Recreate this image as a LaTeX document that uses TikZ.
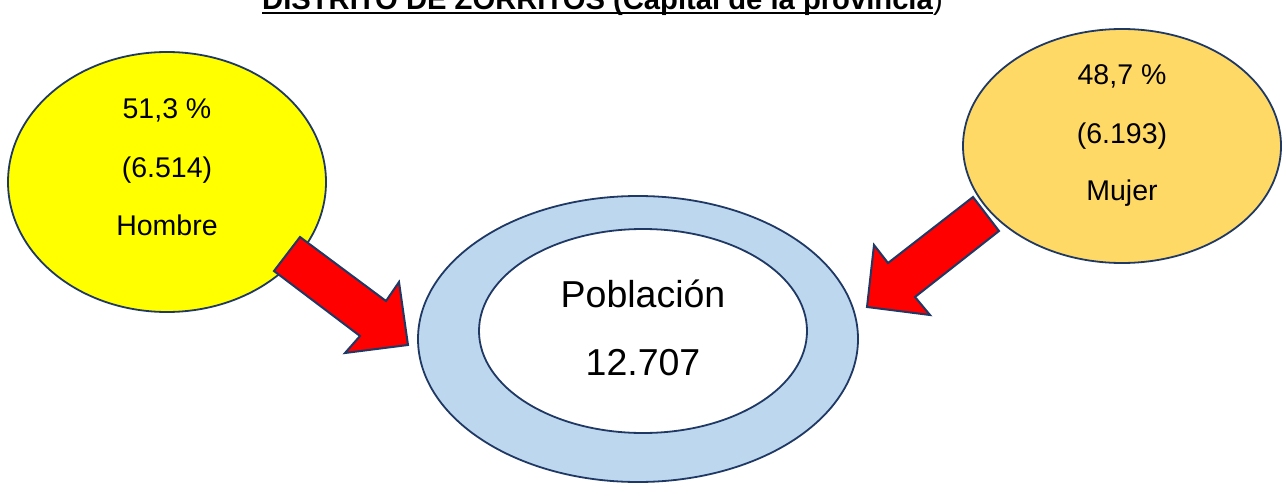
\documentclass[tikz,border=0pt]{standalone}
\usepackage{fontspec}
\setmainfont{Liberation Sans}
\usetikzlibrary{shapes.geometric}
\definecolor{navy}{HTML}{1F3864}
\definecolor{yel}{HTML}{FFFF00}
\definecolor{gold}{HTML}{FFD966}
\definecolor{ring}{HTML}{BDD7EE}
\definecolor{arrred}{HTML}{FF0000}
\begin{document}
\begin{tikzpicture}[x=1pt,y=-1pt,
  ell/.style={draw=navy,line width=1.8pt,ellipse,inner sep=0pt},
  lbl/.style={font=\fontsize{28.5}{28.5}\selectfont,anchor=base},
  big/.style={font=\fontsize{37.5}{37.5}\selectfont,anchor=base},
  bigarrow/.style={draw=navy,line width=2pt,fill=arrred,line join=miter}]
\useasboundingbox (0,0) rectangle (1284,484);
% title (clipped at top)
\node[anchor=base west,inner sep=0pt,font=\fontsize{29.2}{29.2}\selectfont\bfseries] (title) at (262,9.5) {DISTRITO DE ZORRITOS (Capital de la provincia};
\node[anchor=base west,inner sep=0pt,font=\fontsize{29.2}{29.2}\selectfont] (paren) at (title.base east) {)};
\draw[line width=2.4pt] ([yshift=-3.5pt]title.base west) -- ([yshift=-3.5pt]title.base east);
% ellipses
\node[ell,fill=yel,minimum width=318pt,minimum height=260pt] (hom) at (167,182) {};
\node[ell,fill=gold,minimum width=318pt,minimum height=234pt] (muj) at (1122,146) {};
\node[ell,fill=ring,minimum width=440pt,minimum height=286pt] (outer) at (638,339) {};
\node[ell,fill=white,minimum width=328pt,minimum height=204pt] (inner) at (643,331) {};
% texts
\node[lbl] (h1) at (167,119) {51,3 \%};
\node[lbl] (h2) at (167,177) {(6.514)};
\node[lbl] (h3) at (167,235) {Hombre};
\node[lbl] (m1) at (1122,85) {48,7 \%};
\node[lbl] (m2) at (1122,143) {(6.193)};
\node[lbl] (m3) at (1122,200) {Mujer};
\node[big] (p1) at (643,307) {Población};
\node[big] (p2) at (643,375) {12.707};
% arrows
\draw[bigarrow] (300,237) -- (386,301) -- (399,282) -- (408,345) -- (345,353) -- (360,336) -- (274,271) -- cycle;
\draw[bigarrow] (973,197) -- (999,231) -- (915,297) -- (930,315) -- (867,307) -- (874,245) -- (888,263) -- cycle;
\end{tikzpicture}
\end{document}
